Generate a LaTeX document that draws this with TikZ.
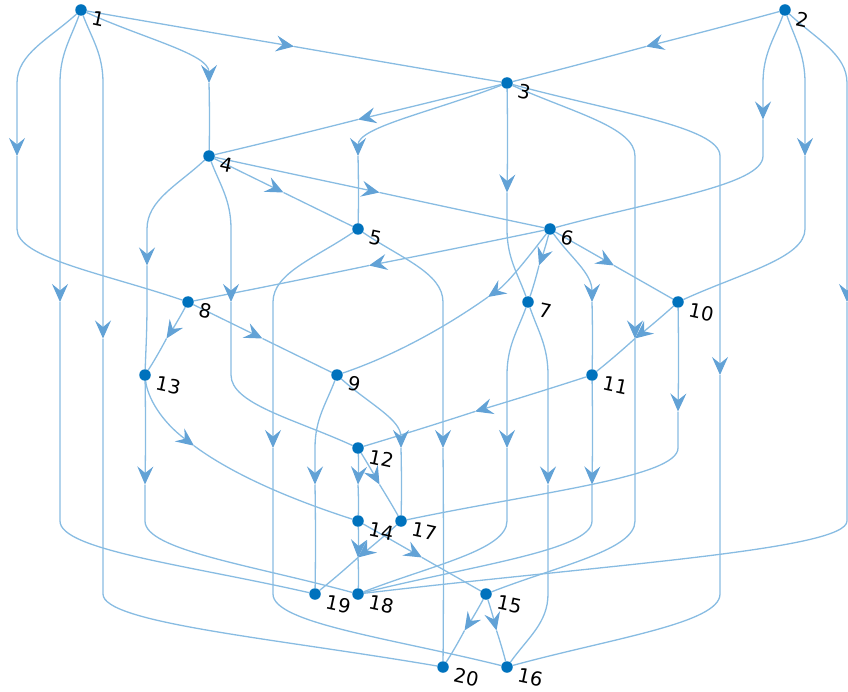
\documentclass[tikz,border=0pt]{standalone}
\usepackage{fontspec}
\newfontfamily\lblfont{DejaVu Sans}
\usetikzlibrary{arrows.meta,calc,backgrounds}
\definecolor{nodeblue}{RGB}{0,114,189}
\definecolor{edgeblue}{RGB}{136,188,226}
\definecolor{arrowblue}{RGB}{98,162,214}
\tikzset{
  edge/.style={draw=edgeblue, line width=1.3pt},
  arr/.style={edge, -{Stealth[length=18pt,width=16pt,inset=6.5pt,color=arrowblue]}},
  vtx/.style={circle, fill=nodeblue, inner sep=0pt, minimum size=11.5pt},
  lbl/.style={anchor=west, rotate=-12, inner sep=0pt, font=\lblfont\fontsize{19.5}{21}\selectfont}
}
% straight piece, drawn as a (practically straight) curve
\newcommand\seg[3]{\draw[#3] (#1) .. controls ($(#1)!.33!(#2)+(0.6,0.3)$) and ($(#1)!.67!(#2)+(0.6,0.3)$) .. (#2);}
\newcommand\sedge[2]{\seg{#1}{$(#1)!.5!(#2)$}{arr}\seg{$(#1)!.5!(#2)$}{#2}{edge}}
\begin{document}
\begin{tikzpicture}[x=1pt,y=-1pt]
\useasboundingbox (0,0) rectangle (848,692);
\foreach \i/\x/\y in {1/81/10, 2/785/10, 3/507/83, 4/209/156, 5/358/229, 6/550/229,
  7/528/302, 8/188/302, 9/337/375, 10/678/302, 11/592/375, 12/358/448, 13/145/375,
  14/358/521, 15/486/594, 16/507/667, 17/401/521, 18/358/594, 19/315/594, 20/443/667}{
  \node[vtx] (n\i) at (\x,\y) {};
  \node[lbl] (t\i) at (\x+11,\y+8) {\i};
}
% mid coordinates of the long edges
\coordinate (m1x4) at (209,83);
\coordinate (m1x8) at (17,156);
\coordinate (m1x19) at (60,302);
\coordinate (m1x20) at (103,338.5);
\coordinate (m2x6) at (763,119.5);
\coordinate (m2x10) at (805,156);
\coordinate (m2x18) at (847,302);
\coordinate (m3x5) at (358,156);
\coordinate (m3x7) at (507,192.5);
\coordinate (m3x15) at (635,338.5);
\coordinate (m3x16) at (720,375);
\coordinate (m4x13) at (147,265.5);
\coordinate (m4x12) at (231,302);
\coordinate (m5x16) at (273,448);
\coordinate (m5x20) at (443,448);
\coordinate (m6x9) at (488,297);
\coordinate (m6x11) at (592,302);
\coordinate (m7x18) at (507,448);
\coordinate (m7x16) at (548,484.5);
\coordinate (m9x17) at (401,448);
\coordinate (m9x19) at (315,484.5);
\coordinate (m10x17) at (678,411.5);
\coordinate (m11x18) at (592,484.5);
\coordinate (m13x18) at (145,484.5);
\coordinate (m13x14) at (194,445.75);
\begin{scope}[on background layer]
% adjacent-layer edges
\sedge{n1}{n3}
\sedge{n2}{n3}
\sedge{n3}{n4}
\sedge{n4}{n5}
\sedge{n4}{n6}
\sedge{n6}{n7}
\sedge{n6}{n8}
\sedge{n6}{n10}
\sedge{n8}{n9}
\sedge{n8}{n13}
\sedge{n10}{n11}
\sedge{n11}{n12}
\sedge{n12}{n14}
\sedge{n12}{n17}
\sedge{n14}{n15}
\sedge{n14}{n18}
\sedge{n15}{n16}
\sedge{n15}{n20}
\sedge{n17}{n19}
% long edges
\draw[arr] (n1) .. controls (145,39) and (209,54) .. (m1x4);
\seg{m1x4}{n4}{edge}
\draw[arr] (n1) .. controls (49,39) and (17,54) .. (17,83) -- (m1x8);
\draw[edge] (m1x8) -- (17,229) .. controls (17,258) and (102.5,273) .. (n8);
\draw[arr] (n1) .. controls (70.5,39) and (60,54) .. (60,83) -- (m1x19);
\draw[edge] (m1x19) -- (60,521) .. controls (60,550) and (187.5,565) .. (n19);
\draw[arr] (n1) .. controls (92,39) and (103,54) .. (103,83) -- (m1x20);
\draw[edge] (m1x20) -- (103,594) .. controls (103,623) and (273,638) .. (n20);
\draw[arr] (n2) .. controls (774,39) and (763,54) .. (763,83) -- (m2x6);
\draw[edge] (m2x6) -- (763,156) .. controls (763,185) and (656.5,200) .. (n6);
\draw[arr] (n2) .. controls (795,39) and (805,54) .. (805,83) -- (m2x10);
\draw[edge] (m2x10) -- (805,229) .. controls (805,258) and (741.5,273) .. (n10);
\draw[arr] (n2) .. controls (816,39) and (847,54) .. (847,83) -- (m2x18);
\draw[edge] (m2x18) -- (847,521) .. controls (847,550) and (602.5,565) .. (n18);
\draw[arr] (n3) .. controls (432.5,112) and (358,127) .. (m3x5);
\seg{m3x5}{n5}{edge}
\seg{n3}{m3x7}{arr}
\draw[edge] (m3x7) -- (507,229) .. controls (507,258) and (517.5,273) .. (n7);
\draw[arr] (n3) .. controls (571,112) and (635,127) .. (635,156) -- (m3x15);
\draw[edge] (m3x15) -- (635,521) .. controls (635,550) and (560.5,565) .. (n15);
\draw[arr] (n3) .. controls (613.5,112) and (720,127) .. (720,156) -- (m3x16);
\draw[edge] (m3x16) -- (720,594) .. controls (720,623) and (613.5,638) .. (n16);
\draw[arr] (n4) .. controls (178,185) and (147,200) .. (147,229) -- (m4x13);
\draw[edge] (m4x13) -- (147,302) .. controls (147,331) and (146,346) .. (n13);
\draw[arr] (n4) .. controls (220,185) and (231,200) .. (231,229) -- (m4x12);
\draw[edge] (m4x12) -- (231,375) .. controls (231,404) and (294.5,419) .. (n12);
\draw[arr] (n5) .. controls (315.5,258) and (273,273) .. (273,302) -- (m5x16);
\draw[edge] (m5x16) -- (273,594) .. controls (273,623) and (390,638) .. (n16);
\draw[arr] (n5) .. controls (400.5,258) and (443,273) .. (443,302) -- (m5x20);
\seg{m5x20}{n20}{edge}
\draw[arr] (n6) .. controls (527,259) and (507,284) .. (m6x9);
\draw[edge] (m6x9) .. controls (460,317) and (405,352) .. (n9);
\draw[arr] (n6) .. controls (571,258) and (592,273) .. (m6x11);
\seg{m6x11}{n11}{edge}
\draw[arr] (n7) .. controls (517.5,331) and (507,346) .. (507,375) -- (m7x18);
\draw[edge] (m7x18) -- (507,521) .. controls (507,550) and (432.5,565) .. (n18);
\draw[arr] (n7) .. controls (538,331) and (548,346) .. (548,375) -- (m7x16);
\draw[edge] (m7x16) -- (548,594) .. controls (548,623) and (527.5,638) .. (n16);
\draw[arr] (n9) .. controls (369,404) and (401,419) .. (m9x17);
\seg{m9x17}{n17}{edge}
\draw[arr] (n9) .. controls (326,404) and (315,419) .. (315,448) -- (m9x19);
\seg{m9x19}{n19}{edge}
\seg{n10}{m10x17}{arr}
\draw[edge] (m10x17) -- (678,448) .. controls (678,477) and (539.5,492) .. (n17);
\seg{n11}{m11x18}{arr}
\draw[edge] (m11x18) -- (592,521) .. controls (592,550) and (475,565) .. (n18);
\seg{n13}{m13x18}{arr}
\draw[edge] (m13x18) -- (145,521) .. controls (145,550) and (251.5,565) .. (n18);
\draw[arr] (n13) .. controls (147.5,397.5) and (161.25,421.25) .. (m13x14);
\draw[edge] (m13x14) .. controls (227,470.25) and (279,495.5) .. (n14);
\end{scope}
\end{tikzpicture}
\end{document}
